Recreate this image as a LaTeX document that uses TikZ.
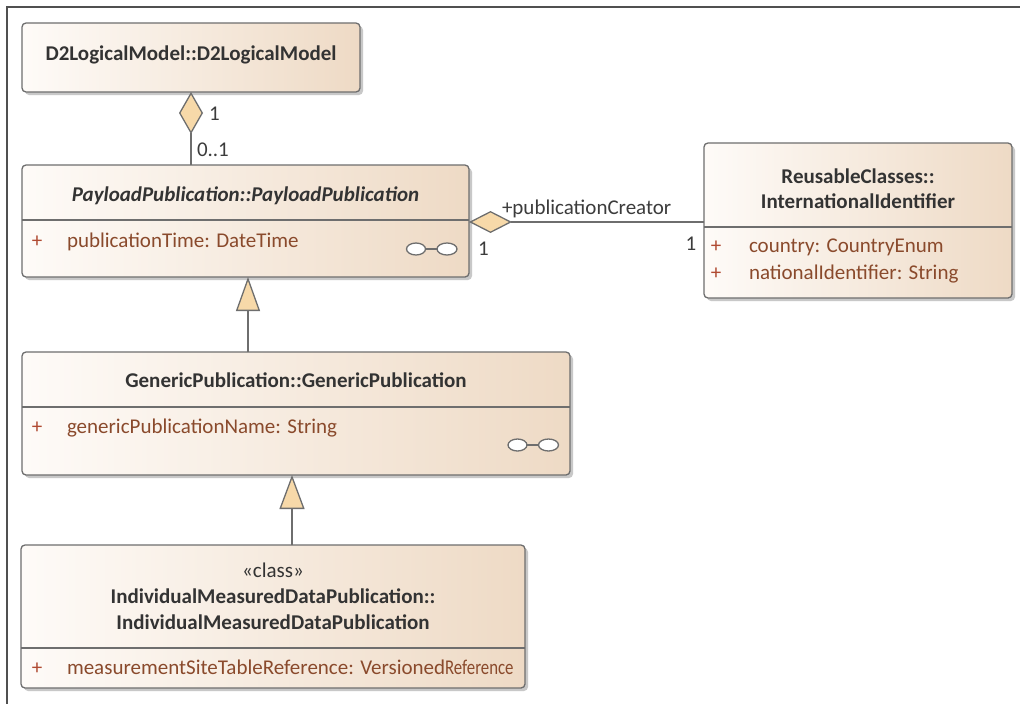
\documentclass[tikz,border=0pt]{standalone}
\usepackage{fontspec}
\setmainfont{Carlito}
\usetikzlibrary{shadows,arrows.meta,calc}
\definecolor{boxline}{HTML}{6E6E6E}
\definecolor{boxleft}{HTML}{FEFBF8}
\definecolor{boxright}{HTML}{EEDAC5}
\definecolor{titlecol}{HTML}{333333}
\definecolor{attrcol}{HTML}{8A4A2C}
\definecolor{pluscol}{HTML}{B04A32}
\definecolor{tipfill}{HTML}{F7D9A9}
\definecolor{framecol}{HTML}{505050}
\definecolor{labelcol}{HTML}{3C3C3C}
\tikzset{
  umlbox/.style={draw=boxline, line width=1.3pt, rounded corners=4pt,
    left color=boxleft, right color=boxright,
    drop shadow={shadow xshift=3pt, shadow yshift=-3pt, opacity=0.3, fill=black!70},
    inner sep=0pt, outer sep=0pt},
  sepline/.style={draw=boxline, line width=1.3pt},
  txt/.style={inner sep=0pt, outer sep=0pt, font=\fontsize{21}{25}\selectfont},
  title/.style={txt, anchor=base, text=titlecol, font=\fontsize{21}{25}\selectfont\bfseries},
  attr/.style={txt, anchor=base west, text=attrcol},
  plus/.style={txt, anchor=base, text=pluscol},
  mult/.style={txt, anchor=base west, text=labelcol},
  conn/.style={draw=boxline, line width=1.3pt},
  icon/.style={draw=boxline, line width=1.3pt, fill=white},
}
\begin{document}
\begin{tikzpicture}[x=1pt,y=-1pt]
\useasboundingbox (0,0) rectangle (1020,704);
\fill[white] (0,0) rectangle (1020,704);
\draw[framecol, line width=2pt] (7,704) -- (7,7) -- (1020,7);

% boxes
\node[umlbox, minimum width=338pt, minimum height=69pt] (d2) at (191,57.5) {};
\node[umlbox, minimum width=447pt, minimum height=112pt] (payload) at (245.5,221) {};
\node[umlbox, minimum width=308pt, minimum height=155pt] (ii) at (858,220.5) {};
\node[umlbox, minimum width=548pt, minimum height=123pt] (generic) at (296,413.5) {};
\node[umlbox, minimum width=504pt, minimum height=143pt] (imdp) at (273,616.5) {};

% separators
\draw[sepline] (payload.west |- 0,220) -- (payload.east |- 0,220);
\draw[sepline] (ii.west |- 0,227) -- (ii.east |- 0,227);
\draw[sepline] (generic.west |- 0,407) -- (generic.east |- 0,407);
\draw[sepline] (imdp.west |- 0,648) -- (imdp.east |- 0,648);

% texts
\node[title] (d2t) at (191,60) {D2LogicalModel::D2LogicalModel};
\node[title, font=\fontsize{21}{25}\selectfont\bfseries\itshape] (pt) at (245.5,201) {PayloadPublication::PayloadPublication};
\node[plus] (pp1) at (37,247) {+};
\node[attr] (pa1) at (67,247) {publicationTime: DateTime};

\node[title] (iit1) at (858,183) {ReusableClasses::};
\node[title] (iit2) at (858,208) {InternationalIdentifier};
\node[plus] (ip1) at (716,252) {+};
\node[attr] (ia1) at (749,252) {country: CountryEnum};
\node[plus] (ip2) at (716,279) {+};
\node[attr] (ia2) at (749,279) {nationalIdentifier: String};

\node[title] (gt) at (296,387) {GenericPublication::GenericPublication};
\node[plus] (gp1) at (37,433) {+};
\node[attr] (ga1) at (67,433) {genericPublicationName: String};

\node[txt, anchor=base, text=titlecol] (st) at (273,577) {«class»};
\node[title] (it1) at (273,603) {IndividualMeasuredDataPublication::};
\node[title] (it2) at (273,629) {IndividualMeasuredDataPublication};
\node[plus] (mp1) at (37,674) {+};
\node[attr] (ma1) at (67,674) {measurementSiteTableReference: Versioned\scalebox{0.8}[1]{Reference}};

% icons
\draw[conn] (425,249) -- (437,249);
\draw[icon] (416,249) ellipse [x radius=9.5pt, y radius=6pt];
\draw[icon] (447,249) ellipse [x radius=10pt, y radius=6pt];
\draw[conn] (527,445) -- (539,445);
\draw[icon] (517.5,445) ellipse [x radius=9.5pt, y radius=6pt];
\draw[icon] (548.5,445) ellipse [x radius=10pt, y radius=6pt];

% connectors
\draw[conn, -{Diamond[length=42pt, width=24pt, fill=tipfill, line width=1.3pt]}]
  (payload.north -| d2.south) -- (d2.south);
\draw[conn, {Diamond[length=43pt, width=22pt, fill=tipfill, line width=1.3pt]}-]
  (payload.east |- 0,222) -- (ii.west |- 0,222);
\draw[conn, -{Triangle[length=34pt, width=24pt, fill=tipfill, line width=1.3pt]}]
  (generic.north -| 248,0) -- (payload.south -| 248,0);
\draw[conn, -{Triangle[length=34pt, width=25pt, fill=tipfill, line width=1.3pt]}]
  (imdp.north -| 292,0) -- (generic.south -| 292,0);

% labels
\node[mult] (m1) at (209,120) {1};
\node[mult] (m2) at (197,156) {0..1};
\node[mult] (m3) at (502,214) {+publicationCreator};
\node[mult] (m4) at (478,255) {1};
\node[mult, anchor=base] (m5) at (691,250) {1};
\end{tikzpicture}
\end{document}
